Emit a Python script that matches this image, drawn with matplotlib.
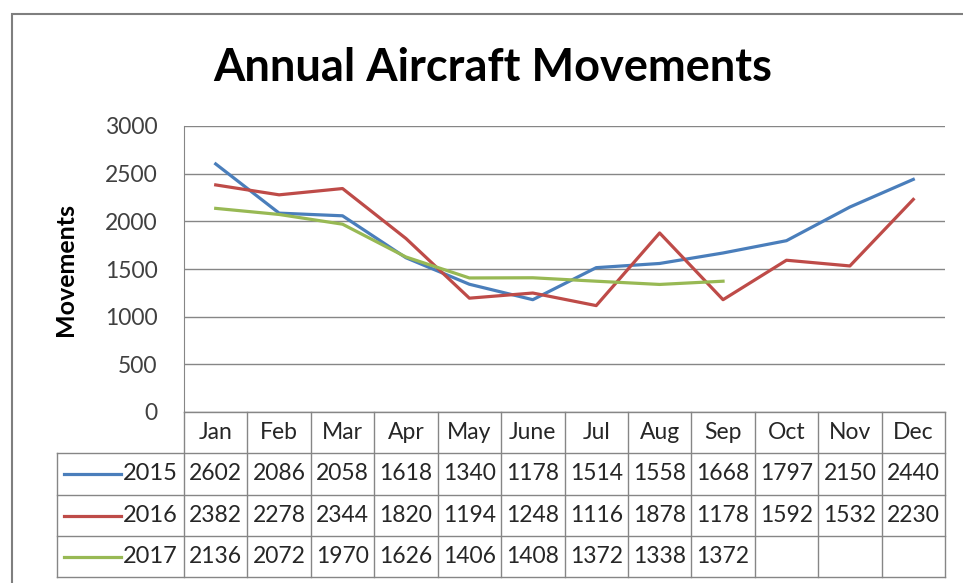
import matplotlib.pyplot as plt
import numpy as np
from matplotlib.lines import Line2D
from matplotlib.patches import Rectangle

plt.rcParams['font.family'] = ['Lato', 'DejaVu Sans']

months = ['Jan', 'Feb', 'Mar', 'Apr', 'May', 'June', 'Jul', 'Aug', 'Sep', 'Oct', 'Nov', 'Dec']
years = ['2015', '2016', '2017']
mov_2015 = [2602, 2086, 2058, 1618, 1340, 1178, 1514, 1558, 1668, 1797, 2150, 2440]
mov_2016 = [2382, 2278, 2344, 1820, 1194, 1248, 1116, 1878, 1178, 1592, 1532, 2230]
mov_2017 = [2136, 2072, 1970, 1626, 1406, 1408, 1372, 1338, 1372]
colors = ['#4a7ebb', '#be4b48', '#98b954']
series = [mov_2015, mov_2016, mov_2017]

W, H = 963, 583
fig = plt.figure(figsize=(W / 100, H / 100), dpi=100)

# plot area in pixels: x 184..945, y 126..412
ax = fig.add_axes([184 / W, 1 - 412 / H, 761 / W, 286 / H])
grid_c = '#868686'

x = np.arange(len(months))
for vals, c in zip(series, colors):
    ax.plot(x[:len(vals)], vals, color=c, lw=2.3, solid_joinstyle='round')

ax.set_xlim(-0.5, 11.5)
ax.set_ylim(0, 3000)
ax.set_yticks(np.arange(0, 3001, 500))
ax.set_xticks([])
ax.yaxis.grid(True, color=grid_c, lw=1)
ax.set_axisbelow(True)
for s in ['top', 'right', 'bottom']:
    ax.spines[s].set_visible(False)
ax.spines['left'].set_color(grid_c)
ax.tick_params(axis='y', length=0, pad=19, labelsize=16.5, labelcolor='#404040')
ax.set_ylabel('Movements', fontsize=18, fontweight='bold', labelpad=20)

# data table under the plot area
tr = ax.get_xaxis_transform()
row_px = [412, 453, 495, 536, 577]
row_y = [(412 - p) / 286 for p in row_px]
kw = dict(transform=tr, clip_on=False)

# horizontal borders
ax.add_line(Line2D([-0.5, 11.5], [row_y[0]] * 2, color=grid_c, lw=1, **kw))
for yy in row_y[1:]:
    ax.add_line(Line2D([-2.5, 11.5], [yy] * 2, color=grid_c, lw=1, **kw))
# vertical borders
for i in range(13):
    ax.add_line(Line2D([i - 0.5] * 2, [row_y[0], row_y[-1]], color=grid_c, lw=1, **kw))
ax.add_line(Line2D([-2.5] * 2, [row_y[1], row_y[-1]], color=grid_c, lw=1, **kw))

tkw = dict(transform=tr, clip_on=False, fontsize=16.5, color='#262626', ha='center', va='center')
for i, m in enumerate(months):
    ax.text(i, (row_y[0] + row_y[1]) / 2, m, **tkw)

for r, (yr, vals, c) in enumerate(zip(years, series, colors)):
    yc = (row_y[r + 1] + row_y[r + 2]) / 2
    ax.add_line(Line2D([-2.39, -1.49], [yc, yc], color=c, lw=2.3, **kw))
    ax.text(-0.6, yc, yr, **{**tkw, 'ha': 'right', 'fontsize': 17})
    for i, v in enumerate(vals):
        ax.text(i, yc, str(v), **tkw)

fig.text(493 / W, 1 - 68 / H, 'Annual Aircraft Movements', fontsize=32.5, fontweight='bold',
         ha='center', va='center', color='black')

# outer chart border
fig.add_artist(Rectangle((12 / W, -0.1), 1.2, 1 - 14 / H + 0.1, transform=fig.transFigure,
                         fill=False, edgecolor='#7f7f7f', lw=1.5))

fig.savefig('out.png', dpi=100)
